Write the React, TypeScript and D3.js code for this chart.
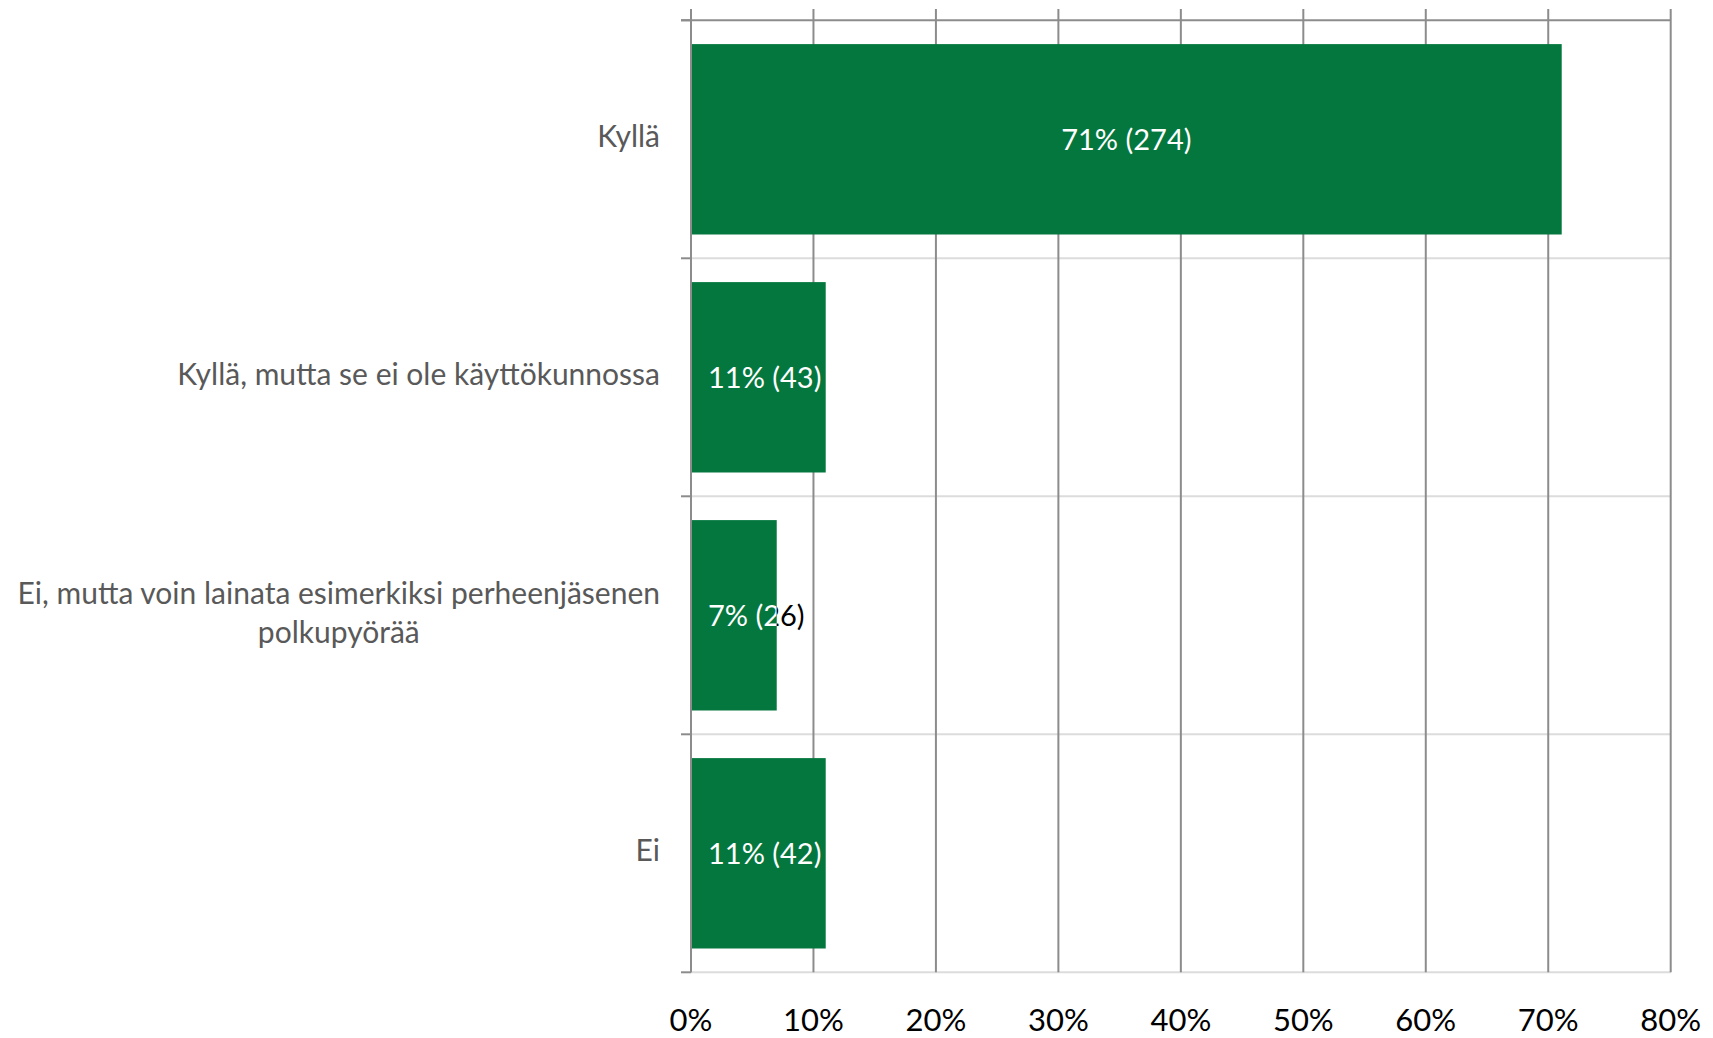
import React, { useEffect, useRef } from "react";
import * as d3 from "d3";

const categories: string[] = [
  "Kyllä",
  "Kyllä, mutta se ei ole käyttökunnossa",
  "Ei, mutta voin lainata esimerkiksi perheenjäsenen polkupyörää",
  "Ei",
];
const shares: number[] = [71.1, 11.0, 7.0, 11.0];
const counts: number[] = [274, 43, 26, 42];
const xTicks: number[] = [0, 10, 20, 30, 40, 50, 60, 70, 80];
const xTickLabels: string[] = ["0%", "10%", "20%", "30%", "40%", "50%", "60%", "70%", "80%"];

const W = 1713;
const H = 1038;
const FONT = "Lato, 'Open Sans', sans-serif";
const GREEN = "#04773e";
const AXIS = "#8c8c8c";
const LIGHT = "#dcdcdc";

export default function App() {
  const ref = useRef<SVGSVGElement>(null);

  useEffect(() => {
    document.body.style.margin = "0";
    document.body.style.overflow = "hidden";
    const svg = d3.select(ref.current);
    svg.selectAll("*").remove();

    const left = 691;
    const right = 1670.7;
    const top = 20.3;
    const bottom = 972.3;
    const x = d3.scaleLinear().domain([0, 80]).range([left, right]);
    const y = d3
      .scaleBand<string>()
      .domain(categories)
      .range([top, bottom])
      .paddingInner(0.2)
      .paddingOuter(0.1);
    const step = y.step();
    const bandTop = (i: number) => top + i * step;
    const bandCenter = (i: number) => top + (i + 0.5) * step;
    const boundaries = d3.range(categories.length + 1).map(bandTop);

    // light horizontal separators (excluding top)
    svg
      .append("g")
      .selectAll("line")
      .data(boundaries.slice(1))
      .join("line")
      .attr("x1", left)
      .attr("x2", right)
      .attr("y1", (d) => d)
      .attr("y2", (d) => d)
      .attr("stroke", LIGHT)
      .attr("stroke-width", 2);

    // vertical gridlines
    svg
      .append("g")
      .selectAll("line")
      .data(xTicks)
      .join("line")
      .attr("x1", (d) => x(d))
      .attr("x2", (d) => x(d))
      .attr("y1", 9)
      .attr("y2", bottom)
      .attr("stroke", AXIS)
      .attr("stroke-width", 2);

    // top line
    svg
      .append("line")
      .attr("x1", left - 10)
      .attr("x2", right)
      .attr("y1", top)
      .attr("y2", top)
      .attr("stroke", AXIS)
      .attr("stroke-width", 2);

    // tick marks
    svg
      .append("g")
      .selectAll("line")
      .data(boundaries)
      .join("line")
      .attr("x1", left - 10)
      .attr("x2", left)
      .attr("y1", (d) => d)
      .attr("y2", (d) => d)
      .attr("stroke", AXIS)
      .attr("stroke-width", 2);

    // bars
    const defs = svg.append("defs");
    const bars = svg.append("g");
    categories.forEach((c, i) => {
      const by = y(c)!;
      const bh = y.bandwidth();
      const bx = x(0);
      const bw = x(shares[i]) - x(0);
      bars
        .append("rect")
        .attr("x", bx)
        .attr("y", by)
        .attr("width", bw)
        .attr("height", bh)
        .attr("fill", GREEN);
      defs
        .append("clipPath")
        .attr("id", `in${i}`)
        .append("rect")
        .attr("x", bx)
        .attr("y", by)
        .attr("width", bw)
        .attr("height", bh);
      defs
        .append("clipPath")
        .attr("id", `out${i}`)
        .append("rect")
        .attr("x", bx + bw)
        .attr("y", by)
        .attr("width", W)
        .attr("height", bh);
    });

    // left axis line on top
    svg
      .append("line")
      .attr("x1", left)
      .attr("x2", left)
      .attr("y1", 9)
      .attr("y2", bottom)
      .attr("stroke", AXIS)
      .attr("stroke-width", 2);

    // data labels
    categories.forEach((c, i) => {
      const label = `${Math.round(shares[i])}% (${counts[i]})`;
      const bw = x(shares[i]) - x(0);
      const wide = bw > 250;
      const lx = wide ? x(0) + bw / 2 : x(0) + 17;
      const anchor = wide ? "middle" : "start";
      const ly = bandCenter(i) + 11;
      [
        { fill: "#ffffff", clip: `in${i}` },
        { fill: "#000000", clip: `out${i}` },
      ].forEach((s) => {
        svg
          .append("text")
          .attr("x", lx)
          .attr("y", ly)
          .attr("text-anchor", anchor)
          .attr("font-family", FONT)
          .attr("font-size", 29)
          .attr("fill", s.fill)
          .attr("clip-path", `url(#${s.clip})`)
          .text(label);
      });
    });

    // category labels with wrapping
    const labelRight = 660;
    const maxWidth = 656;
    const lineH = 39;
    categories.forEach((c, i) => {
      const t = svg
        .append("text")
        .attr("font-family", FONT)
        .attr("font-size", 30)
        .attr("fill", "#595959")
        .attr("text-anchor", "middle");
      const words = c.split(" ");
      const lines: string[] = [];
      let cur: string[] = [];
      const probe = t.append("tspan");
      words.forEach((w) => {
        const test = [...cur, w].join(" ");
        probe.text(test);
        const len = (probe.node() as SVGTSpanElement).getComputedTextLength();
        if (len > maxWidth && cur.length) {
          lines.push(cur.join(" "));
          cur = [w];
        } else {
          cur.push(w);
        }
      });
      if (cur.length) lines.push(cur.join(" "));
      let maxW = 0;
      lines.forEach((l) => {
        probe.text(l);
        maxW = Math.max(maxW, (probe.node() as SVGTSpanElement).getComputedTextLength());
      });
      probe.remove();
      const cx = labelRight - maxW / 2;
      const first = bandCenter(i) + 8 - ((lines.length - 1) * lineH) / 2;
      lines.forEach((l, k) => {
        t.append("tspan")
          .attr("x", cx)
          .attr("y", first + k * lineH)
          .text(l);
      });
    });

    // x tick labels
    svg
      .append("g")
      .selectAll("text")
      .data(xTicks)
      .join("text")
      .attr("x", (d) => x(d))
      .attr("y", 1031)
      .attr("text-anchor", "middle")
      .attr("font-family", FONT)
      .attr("font-size", 31)
      .attr("fill", "#000000")
      .text((d, i) => xTickLabels[i]);
  }, []);

  return (
    <svg
      ref={ref}
      width={W}
      height={H}
      style={{ position: "absolute", left: 0, top: 0, background: "#ffffff", display: "block" }}
    />
  );
}
